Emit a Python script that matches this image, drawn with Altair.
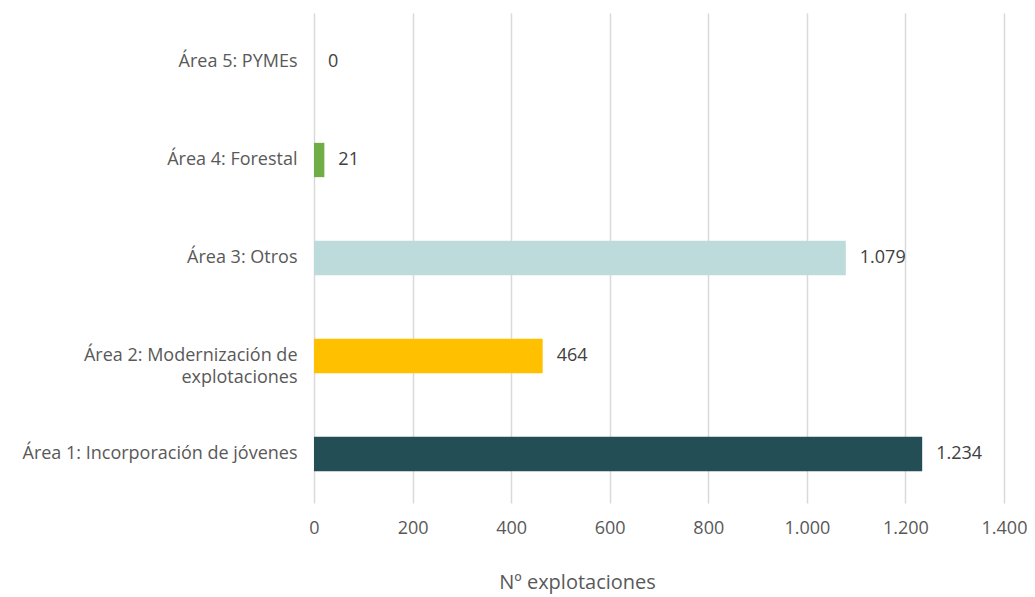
import altair as alt
import pandas as pd

categories = [
    "Área 5: PYMEs",
    "Área 4: Forestal",
    "Área 3: Otros",
    "Área 2: Modernización de explotaciones",
    "Área 1: Incorporación de jóvenes",
]
values = [0, 21, 1079, 464, 1234]
colors = ["#FFFFFF", "#70AD47", "#BDDBDB", "#FFC000", "#234E56"]

df = pd.DataFrame({
    "cat": categories,
    "val": values,
    "col": colors,
    "lbl": [f"{v:,}".replace(",", ".") for v in values],
})

FONT = "Open Sans"

y_enc = alt.Y(
    "cat:N",
    sort=categories,
    title=None,
    scale=alt.Scale(paddingInner=0.65, paddingOuter=0.325),
    axis=alt.Axis(
        domain=False,
        ticks=False,
        grid=False,
        labelFont=FONT,
        labelFontSize=18,
        labelColor="#595959",
        labelPadding=17,
        labelLineHeight=22,
        labelLimit=400,
        labelExpr="datum.label == 'Área 2: Modernización de explotaciones' ? ['Área 2: Modernización de', 'explotaciones'] : datum.label",
    ),
)

x_enc = alt.X(
    "val:Q",
    title="Nº explotaciones",
    scale=alt.Scale(domain=[0, 1400], nice=False),
    axis=alt.Axis(
        values=[0, 200, 400, 600, 800, 1000, 1200, 1400],
        domain=False,
        ticks=False,
        grid=True,
        gridColor="#D9D9D9",
        gridWidth=1.5,
        labelFont=FONT,
        labelFontSize=18,
        labelColor="#595959",
        labelPadding=16,
        labelFlush=False,
        labelExpr="replace(format(datum.value, ','), ',', '.')",
        titleFont=FONT,
        titleFontSize=20,
        titleFontWeight="normal",
        titleColor="#595959",
        titleX=263,
        titleY=79,
        titleAlign="center",
        titleBaseline="middle",
    ),
)

bars = alt.Chart(df).mark_bar().encode(
    x=x_enc,
    y=y_enc,
    color=alt.Color("col:N", scale=None),
)

text = alt.Chart(df).mark_text(
    align="left",
    baseline="middle",
    dx=14,
    font=FONT,
    fontSize=18,
    color="#404040",
).encode(
    x="val:Q",
    y=alt.Y("cat:N", sort=categories),
    text="lbl:N",
)

chart = (bars + text).properties(
    width=690,
    height=490,
    autosize=alt.AutoSizeParams(type="none"),
    padding={"left": 306, "top": 5, "right": 23, "bottom": 95},
).configure_view(stroke=None)

chart.save("out.html", embed_options={"renderer": "svg", "actions": False})
